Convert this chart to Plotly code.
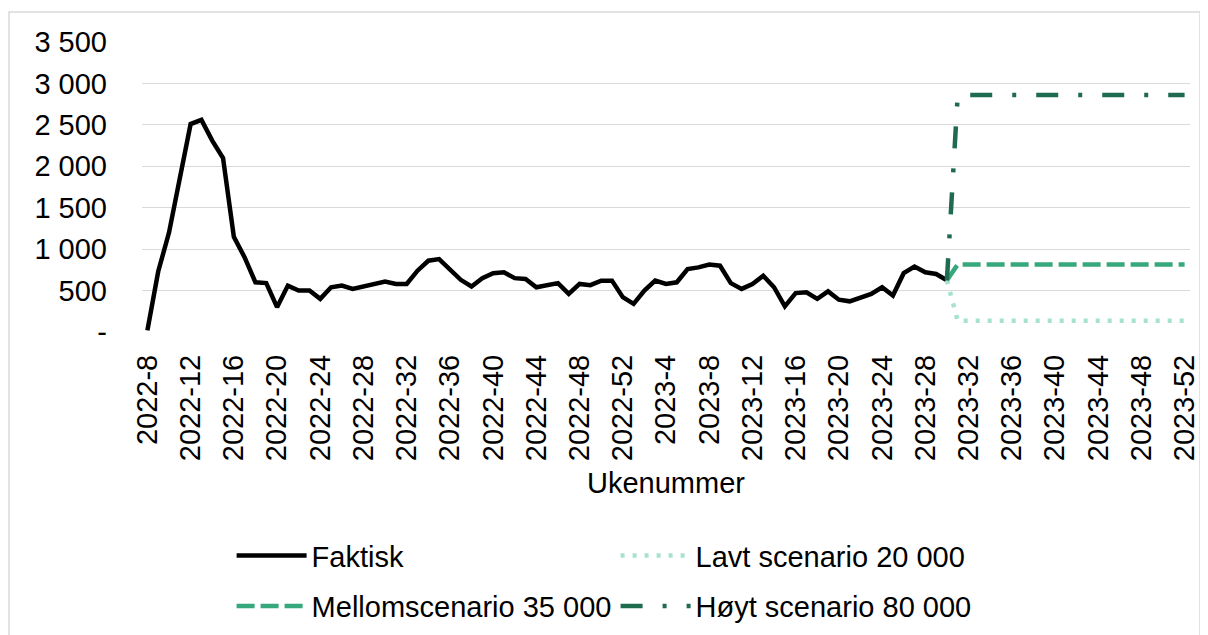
import plotly.graph_objects as go

# Categories: ISO week labels
weeks_2022 = [f"2022-{w}" for w in range(8, 53)]
weeks_2023 = [f"2023-{w}" for w in range(1, 53)]
weeks = weeks_2022 + weeks_2023

# Actual values 2022-8 .. 2023-30
faktisk = [20, 730, 1200, 1860, 2510, 2560, 2310, 2100, 1150, 900,
           600, 590, 300, 560, 500, 500, 400, 540, 560, 520,
           550, 570, 610, 580, 580, 740, 860, 880, 760, 630,
           550, 650, 710, 720, 650, 640, 540, 560, 590, 460,
           580, 565, 620, 620, 420, 340, 500, 620, 580, 600,
           760, 780, 815, 800, 590, 520, 580, 680, 540, 310,
           470, 480, 400, 490, 390, 370, 420, 460, 540, 440,
           710, 790, 720, 700, 625]

# Scenarios 2023-30 .. 2023-52
scenario_weeks = weeks[74:]
lavt = [625, 135, 135, 135, 135, 135, 135, 135, 135, 135, 135, 135,
        135, 135, 135, 135, 135, 135, 135, 135, 135, 135, 135]
mellom = [625, 815, 815, 815, 815, 815, 815, 815, 815, 815, 815, 815,
          815, 815, 815, 815, 815, 815, 815, 815, 815, 815, 815]
hoyt = [625, 2860, 2860, 2860, 2860, 2860, 2860, 2860, 2860, 2860, 2860, 2860,
        2860, 2860, 2860, 2860, 2860, 2860, 2860, 2860, 2860, 2860, 2860]

y_ticks = [0, 500, 1000, 1500, 2000, 2500, 3000, 3500]
y_ticktext = ["-", "500", "1 000", "1 500", "2 000", "2 500", "3 000", "3 500"]
x_ticks = weeks[::4]

FONT = "Liberation Sans, Arial, sans-serif"
FS = 29
C_LOW = "#a6e2cc"
C_MID = "#36a87c"
C_HIGH = "#1f6b4f"

fig = go.Figure()
fig.add_trace(go.Scatter(x=weeks[:len(faktisk)], y=faktisk, mode="lines", name="Faktisk",
                         line=dict(color="black", width=4.5), legend="legend", legendgroup="a"))
fig.add_trace(go.Scatter(x=scenario_weeks, y=lavt, mode="lines", name="Lavt scenario 20 000",
                         line=dict(color=C_LOW, width=4.5, dash="4px,8px"), legend="legend2", legendgroup="b"))
fig.add_trace(go.Scatter(x=scenario_weeks, y=mellom, mode="lines", name="Mellomscenario 35 000",
                         line=dict(color=C_MID, width=4.5, dash="18px,6px"), legend="legend", legendgroup="c"))
fig.add_trace(go.Scatter(x=scenario_weeks, y=hoyt, mode="lines", name="Høyt scenario 80 000",
                         line=dict(color=C_HIGH, width=4.5, dash="22px,20px,4px,20px"), legend="legend2", legendgroup="d"))

legend_common = dict(font=dict(family=FONT, size=FS, color="black"), orientation="v",
                     itemwidth=70, tracegroupgap=10, bgcolor="rgba(0,0,0,0)",
                     yanchor="top", xanchor="left")

# figure is drawn at an 8px page offset (body margin)
PL, PT, PW, PH = 134, 34, 1048, 290

fig.update_layout(
    width=1200, height=627,
    margin=dict(l=PL, r=1200 - PL - PW, t=PT, b=627 - PT - PH, autoexpand=False),
    paper_bgcolor="white", plot_bgcolor="white",
    font=dict(family=FONT, size=FS, color="black"),
    showlegend=True,
    legend=dict(x=0.0855, y=-0.683, **legend_common),
    legend2=dict(x=0.4519, y=-0.683, **legend_common),
    xaxis=dict(type="category", categoryorder="array", categoryarray=weeks,
               range=[-0.5, len(weeks) - 0.5], automargin=False,
               tickmode="array", tickvals=x_ticks, ticktext=x_ticks,
               tickangle=-90, tickfont=dict(family=FONT, size=FS, color="black"),
               showgrid=False, showline=False, zeroline=False, ticks="",
               ticklabelstandoff=16,
               title=dict(text="Ukenummer", font=dict(family=FONT, size=FS, color="black"), standoff=12)),
    yaxis=dict(range=[0, 3500], tickmode="array", tickvals=y_ticks, ticktext=y_ticktext,
               automargin=False,
               tickfont=dict(family=FONT, size=FS, color="black"),
               showgrid=True, gridcolor="#d9d9d9", gridwidth=1.3,
               zeroline=False, showline=False, ticks="", ticklabelstandoff=34),
    shapes=[dict(type="rect", xref="paper", yref="paper",
                 x0=(1 - PL) / PW, x1=(1192 - PL) / PW,
                 y0=(PT + PH - 640) / PH, y1=(PT + PH - 4) / PH,
                 line=dict(color="#d9d9d9", width=1.5), fillcolor="rgba(0,0,0,0)", layer="below")],
)

fig.write_html("out.html")
